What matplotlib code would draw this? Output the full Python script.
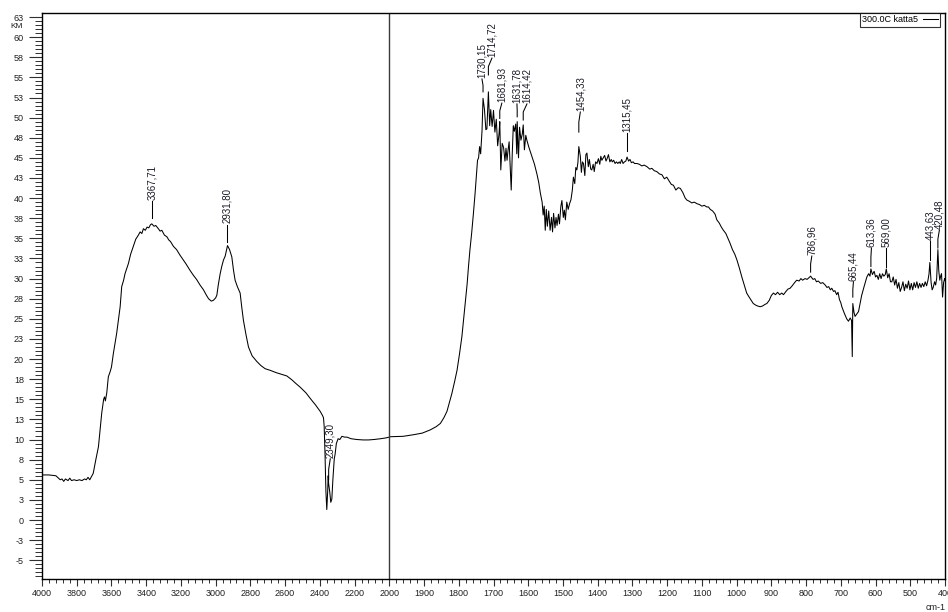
import numpy as np
import matplotlib
matplotlib.use("Agg")
import matplotlib.pyplot as plt
from matplotlib.ticker import FixedLocator

plt.rcParams['font.family'] = ['Liberation Sans', 'DejaVu Sans']

# spectrum, 4000-2000 cm-1
wn_high = [4000, 3960, 3920, 3905, 3895, 3885, 3875, 3865, 3850, 3840, 3830, 3815, 3800,
           3785, 3770, 3755, 3745, 3735, 3725, 3715, 3705, 3690, 3675, 3665, 3656, 3645,
           3640, 3635, 3627, 3618, 3608, 3600, 3589, 3570, 3550, 3541, 3530, 3522, 3502,
           3490, 3474, 3460, 3445, 3435, 3425, 3416, 3405, 3395, 3385, 3375, 3367.71, 3355,
           3345, 3330, 3320, 3310, 3295, 3281, 3270, 3260, 3243, 3225, 3205, 3186, 3170,
           3150, 3128, 3110, 3090, 3070, 3055, 3041, 3025, 3013, 3000, 2993, 2985, 2974,
           2965, 2955, 2945, 2931.80, 2920, 2907, 2897, 2888, 2875, 2859, 2850, 2840, 2825,
           2811, 2790, 2763, 2740, 2715, 2686, 2650, 2620, 2590, 2560, 2540, 2513, 2480,
           2455, 2425, 2398, 2385, 2379, 2375, 2370, 2365, 2360, 2355, 2352, 2349.30, 2343,
           2337, 2331, 2325, 2317, 2312, 2305, 2295, 2285, 2273, 2258, 2244, 2220, 2186,
           2150, 2120, 2090, 2050, 2020]
km_high = [5.6, 5.6, 5.5, 5.2, 5.0, 5.1, 4.8, 5.1, 4.9, 5.2, 4.9, 5.0, 4.9,
           5.0, 4.9, 5.1, 5.0, 5.3, 5.0, 5.4, 5.8, 7.5, 9.1, 11.3, 13.3, 15.0,
           15.3, 14.8, 15.8, 17.8, 18.4, 19.0, 20.7, 23.2, 26.5, 29.0, 29.8, 30.6, 31.9,
           33.0, 34.0, 34.9, 35.4, 35.8, 35.6, 36.2, 36.0, 36.4, 36.3, 36.7, 36.8, 36.5,
           36.6, 36.2, 35.9, 36.0, 35.4, 35.2, 34.8, 34.6, 34.0, 33.6, 32.9, 32.3, 31.8,
           31.1, 30.4, 29.9, 29.2, 28.6, 28.0, 27.5, 27.2, 27.3, 27.6, 27.95, 29.2, 30.6,
           31.5, 32.3, 32.8, 34.1, 33.6, 32.7, 31.0, 29.8, 29.0, 28.2, 26.5, 24.8, 23.0,
           21.5, 20.4, 19.7, 19.2, 18.8, 18.6, 18.3, 18.1, 17.9, 17.4, 17.0, 16.5, 15.8,
           15.1, 14.3, 13.5, 13.0, 12.7, 11.6, 8.0, 3.5, 1.3, 3.5, 5.5, 4.5, 3.5,
           2.2, 2.6, 5.0, 7.6, 8.2, 9.5, 10.1, 10.0, 10.4, 10.3, 10.3, 10.1, 10.0,
           9.95, 9.95, 10.0, 10.1, 10.2]

# spectrum, 2000-400 cm-1
wn_low = [2000, 1997, 1960, 1930, 1905, 1882, 1865, 1853, 1843, 1834, 1827, 1820, 1812,
          1805, 1798, 1791, 1786, 1781, 1776, 1772, 1768, 1763, 1758, 1753, 1749, 1746,
          1743, 1740, 1737, 1733, 1730.15, 1726, 1722, 1719, 1714.72, 1711, 1708, 1704,
          1700, 1696, 1692, 1688, 1684, 1681.93, 1679, 1675, 1671, 1667, 1664, 1661, 1658,
          1655, 1652, 1649, 1646, 1643, 1640, 1636, 1633, 1631.78, 1628, 1625, 1621, 1617,
          1614.42, 1611, 1607, 1604, 1598, 1589, 1582, 1575, 1570, 1565, 1560, 1557, 1554,
          1551, 1548, 1545, 1541, 1537, 1533, 1530, 1527, 1523, 1520, 1517, 1513, 1510,
          1506, 1503, 1499, 1496, 1493, 1489, 1485, 1481, 1477, 1473, 1470, 1466, 1463,
          1460, 1457, 1454.33, 1450, 1447, 1444, 1441, 1437, 1434, 1431, 1427, 1424, 1420,
          1417, 1413, 1410, 1406, 1402, 1398, 1394, 1391, 1388, 1384, 1380, 1376, 1373,
          1369, 1365, 1361, 1358, 1354, 1350, 1346, 1342, 1338, 1335, 1331, 1327, 1323,
          1319, 1315.45, 1311, 1307, 1303, 1298, 1294, 1287, 1280, 1273, 1266, 1258, 1250,
          1244, 1237, 1230, 1222, 1215, 1208, 1201, 1194, 1188, 1182, 1175, 1168, 1162,
          1155, 1148, 1143, 1136, 1129, 1122, 1114, 1107, 1100, 1093, 1086, 1081, 1076,
          1069, 1062, 1057, 1050, 1044, 1038, 1031, 1025, 1019, 1012, 1005, 999, 992,
          985, 978, 971, 964, 958, 952, 945, 940, 932, 925, 918, 913, 906, 900, 894, 888,
          882, 876, 870, 865, 858, 852, 846, 840, 833, 827, 820, 815, 810, 803, 797, 792,
          786.96, 780, 775, 770, 765, 758, 752, 745, 740, 735, 730, 726, 721, 717, 712,
          708, 704, 700, 697, 690, 683, 678, 673, 669, 667, 665.44, 662, 659, 654, 649,
          645, 640, 633, 625, 620, 616, 613.36, 609, 604, 600, 596, 592, 588, 584, 580,
          576, 572, 569.00, 565, 561, 557, 553, 549, 545, 541, 537, 533, 529, 525, 521,
          517, 513, 509, 505, 501, 497, 493, 489, 485, 481, 477, 473, 469, 465, 461, 457,
          453, 449, 446, 443.63, 440, 437, 434, 430, 427, 424, 420.48, 418, 415, 412, 410,
          407, 404, 401, 400]
km_low = [10.3, 10.35, 10.4, 10.6, 10.8, 11.2, 11.6, 12.0, 12.7, 13.5, 14.6, 15.7, 17.2,
          18.6, 20.6, 22.8, 25.0, 27.3, 29.3, 31.5, 33.5, 35.6, 38.0, 40.6, 43.0, 44.7,
          45.0, 46.4, 45.5, 48.4, 52.4, 51.0, 48.5, 48.6, 53.2, 49.0, 51.0, 48.9,
          50.9, 48.2, 49.8, 46.5, 48.0, 49.5, 43.5, 46.8, 46.3, 44.6, 46.2, 44.7, 46.0,
          47.0, 44.0, 41.0, 45.5, 49.0, 48.3, 49.2, 45.5, 49.5, 45.0, 48.8, 47.2, 48.0,
          49.1, 46.0, 47.8, 47.2, 46.3, 45.1, 44.2, 43.0, 42.0, 40.6, 39.5, 37.9, 39.0,
          36.0, 38.6, 36.5, 38.4, 36.0, 37.6, 35.8, 38.1, 36.3, 37.6, 36.6, 38.0, 36.8,
          39.0, 39.7, 37.6, 38.5, 37.3, 39.5, 38.6, 39.3, 39.8, 41.0, 42.6, 41.8, 43.8,
          43.5, 44.4, 46.4, 45.2, 43.2, 44.5, 44.3, 42.8, 45.4, 45.6, 43.9, 44.8, 43.6,
          43.5, 44.2, 43.3, 44.5, 44.3, 44.9, 44.2, 45.2, 44.7, 45.0, 45.3, 44.6, 44.9,
          45.4, 44.5, 44.8, 44.5, 44.7, 44.3, 44.5, 44.3, 44.5, 44.3, 44.8, 44.3, 44.5,
          44.6, 45.1, 44.6, 44.8, 44.4, 44.5, 44.3, 44.3, 44.2, 44.0, 44.1, 43.9, 43.6,
          43.7, 43.4, 43.3, 43.0, 42.9, 42.4, 42.6, 42.1, 41.7, 41.6, 41.0, 41.3, 41.2,
          40.7, 40.0, 39.75, 39.6, 39.4, 39.5, 39.3, 39.2, 39.0, 39.1, 38.9, 38.9, 38.6,
          38.4, 38.0, 37.3, 36.9, 36.4, 36.0, 35.6, 35.0, 34.4, 33.6, 33.0, 32.3, 31.3,
          30.2, 29.2, 28.2, 27.7, 27.3, 26.9, 26.7, 26.6, 26.5, 26.6, 26.8, 26.9, 27.3, 27.9, 28.2, 28.0,
          28.3, 28.0, 28.2, 28.0, 28.4, 28.7, 28.8, 29.1, 29.5, 29.8, 29.7, 30.0, 29.8, 30.0, 29.9, 30.1,
          30.3, 29.9, 30.0, 29.6, 29.7, 29.4, 29.5, 29.2, 28.9, 29.0, 28.6, 28.8, 28.4, 28.5, 28.0,
          28.3, 27.4, 27.0, 26.5, 25.7, 25.0, 24.7, 25.1, 24.8, 20.3, 26.9, 25.8, 25.3, 25.6, 25.9,
          26.8, 27.9, 29.0, 30.2, 30.6, 30.3, 31.2, 30.5, 30.9, 30.2, 30.4, 29.9, 30.6, 30.0, 30.6,
          30.3, 30.5, 31.2, 30.1, 30.6, 29.6, 29.6, 30.2, 29.2, 29.9, 28.8, 29.5, 28.4, 28.9, 29.6,
          28.5, 29.3, 28.8, 29.7, 28.6, 29.4, 28.6, 29.5, 28.9, 29.6, 28.8, 29.4, 28.9, 29.4, 29.0, 29.6,
          29.1, 29.8, 30.6, 32.0, 29.5, 28.6, 28.9, 29.6, 29.2, 30.0, 33.6, 31.0, 29.8, 30.4, 30.6,
          27.7, 29.5, 30.0, 29.8]

# picked peaks
peak_wn = [3367.71, 2931.80, 2349.30, 1730.15, 1714.72, 1681.93, 1631.78, 1614.42,
           1454.33, 1315.45, 786.96, 665.44, 613.36, 569.00, 443.63, 420.48]
peak_text = ["3367,71", "2931,80", "2349,30", "1730,15", "1714,72", "1681,93", "1631,78",
             "1614,42", "1454,33", "1315,45", "786,96", "665,44", "613,36", "569,00",
             "443,63", "420,48"]

y_major = np.arange(-5, 62.6, 2.5)
y_labels = ["-5", "-3", "0", "3", "5", "8", "10", "13", "15", "18", "20", "23", "25", "28",
            "30", "33", "35", "38", "40", "43", "45", "48", "50", "53", "55", "58", "60", "63"]
x_major = [4000, 3800, 3600, 3400, 3200, 3000, 2800, 2600, 2400, 2200, 2000, 1900, 1800,
           1700, 1600, 1500, 1400, 1300, 1200, 1100, 1000, 900, 800, 700, 600, 500, 400]

# leader layout: text x, line bottom, line top
label_x = [3367.71, 2931.80, 2340, 1733.2, 1704.4, 1676, 1632.5, 1603.7,
           1450, 1315.45, 783.5, 663.6, 611.8, 569.0, 443.63, 416.3]
label_lo = [37.5, 34.6, 5.0, 53.2, 55.3, 49.9, 50.1, 49.7, 48.2, 45.8, 30.8, 27.7,
            31.5, 31.5, 32.3, 33.8]
label_hi = [39.6, 36.7, 7.6, 54.8, 57.4, 51.8, 51.7, 51.7, 50.7, 48.1, 32.8, 29.6,
            33.8, 33.8, 34.7, 36.0]


# wavenumber axis: below 2000 cm-1 the scale is doubled
def fwd(x):
    x = np.asarray(x, dtype=float)
    return np.where(x >= 2000, x, 2 * x - 2000)


def inv(y):
    y = np.asarray(y, dtype=float)
    return np.where(y >= 2000, y, (y + 2000) / 2)


wn = np.array(wn_high + wn_low)
km = np.array(km_high + km_low)

fig = plt.figure(figsize=(9.48, 6.12), dpi=100)
ax = fig.add_axes([42 / 948, 33 / 612, 903 / 948, 566 / 612])
ax.set_xscale('function', functions=(fwd, inv))

ax.plot(wn, km, color='black', lw=0.75, label='300.0C katta5')
ax.axvline(2000, color='#3a3a3a', lw=1.0)

for w, t, tx, lo, hi in zip(peak_wn, peak_text, label_x, label_lo, label_hi):
    ax.plot([w, w, tx], [lo, lo + (hi - lo) * 0.5, hi], color='black', lw=0.75)
    ax.text(tx, hi + 0.15, t, rotation=90, ha='center', va='bottom',
            fontsize=7, color='#1c1c28')

ax.set_xlim(4000, 400)
ax.set_ylim(-7.33, 63.0)

ax.xaxis.set_major_locator(FixedLocator(x_major))
ax.set_xticklabels([str(v) for v in x_major])
ax.xaxis.set_minor_locator(FixedLocator(list(np.arange(2000, 4001, 40)) +
                                        list(np.arange(400, 2000, 20))))
ax.yaxis.set_major_locator(FixedLocator(y_major))
ax.set_yticklabels(y_labels)
ax.yaxis.set_minor_locator(FixedLocator(np.arange(-7, 63, 0.5)))

ax.tick_params(axis='y', which='major', length=9.5, width=0.8, pad=3.5,
               labelsize=6.5, labelcolor='#202020', color='#303030')
ax.tick_params(axis='y', which='minor', length=5, width=0.7, color='#303030')
ax.tick_params(axis='x', which='major', length=5, width=0.8, pad=2,
               labelsize=6.5, labelcolor='#202020', color='#303030')
ax.tick_params(axis='x', which='minor', length=3, width=0.7, color='#303030')
for s in ax.spines.values():
    s.set_linewidth(1.0)
    s.set_color('black')

leg = ax.legend(loc='upper right', bbox_to_anchor=(898 / 903, 1.0), borderaxespad=0,
                markerfirst=False, fancybox=False, frameon=True, fontsize=6.5,
                handlelength=1.6, borderpad=0.25, handletextpad=0.6)
leg.get_frame().set_edgecolor('black')
leg.get_frame().set_linewidth(0.8)

fig.text(17 / 948, 1 - 26 / 612, "KM", fontsize=6, ha='center', va='center', color='#202020')
fig.text(936 / 948, 1 - 608 / 612, "cm-1", fontsize=6.5, ha='center', va='center',
         color='#202020')

fig.savefig("out.png", dpi=100)
